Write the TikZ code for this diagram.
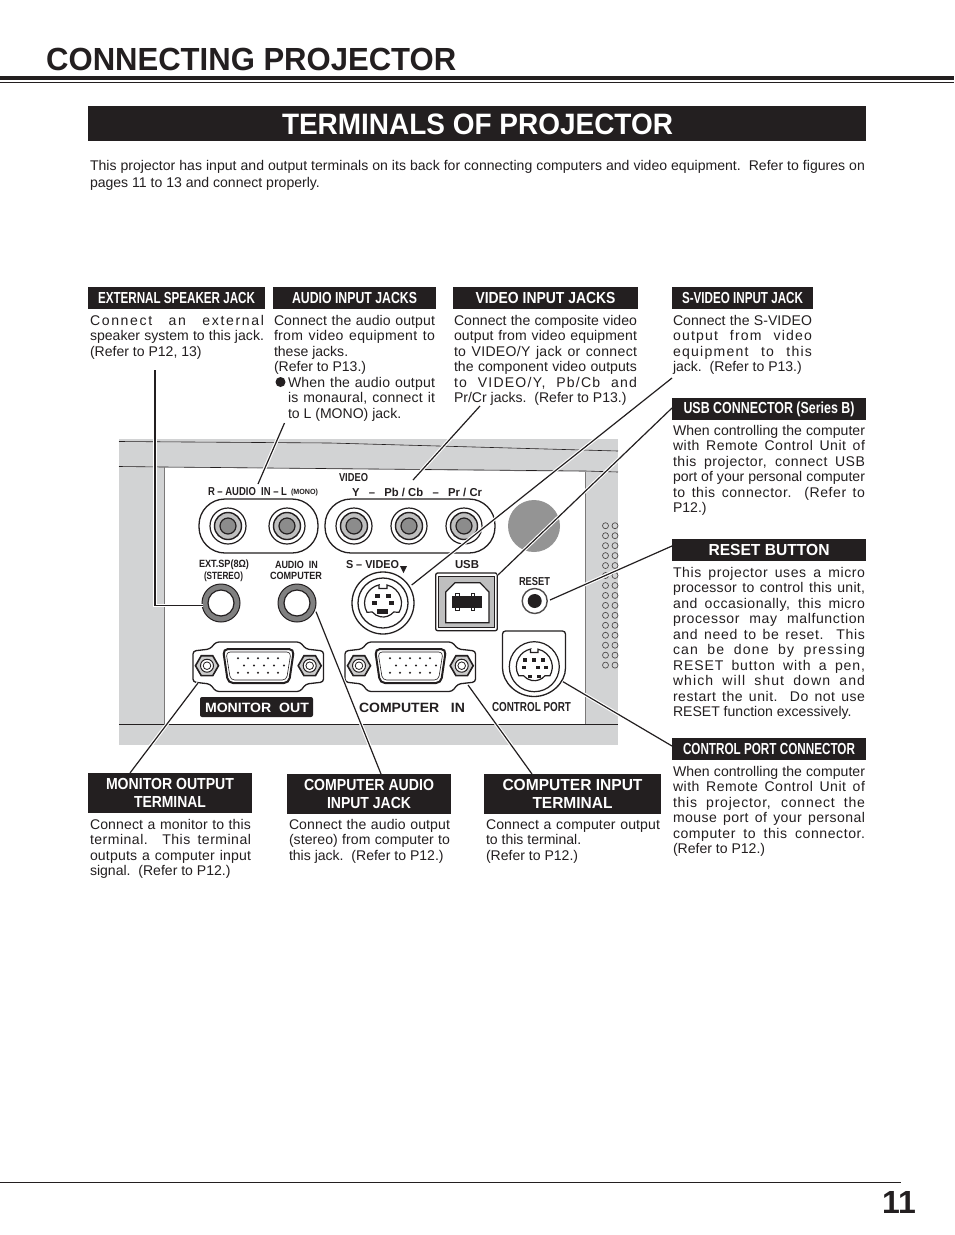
\documentclass[tikz,border=0pt]{standalone}
\usepackage{graphicx}
\usepackage{fontspec}
\setmainfont{Liberation Sans}
\definecolor{ink}{HTML}{231F20}
\definecolor{panel}{HTML}{D2D3D4}
\newsavebox\fbx
\newsavebox\fby
\newcommand\fitw[2]{\sbox\fbx{#2}\pgfmathsetmacro\fr{#1/\the\wd\fbx}\scalebox{\fr}[1]{\usebox\fbx}}
\newcommand\jl[1]{\par\noindent
  \sbox\fbx{\spaceskip=0pt\xspaceskip=0pt #1}%
  \sbox\fby{\addfontfeature{LetterSpace=10}\spaceskip=0pt\xspaceskip=0pt #1}%
  \pgfmathsetmacro\lsp{10*(\the\hsize-\the\wd\fbx)/(\the\wd\fby-\the\wd\fbx)}%
  \pgfmathsetmacro\lsp{\lsp>0?0.55*\lsp:\lsp}%
  \hbox to\hsize{\strut\addfontfeature{LetterSpace=\lsp}\spaceskip=0pt\xspaceskip=0pt #1}\par}
\newcommand\pl[1]{\par\noindent\hbox{\strut\spaceskip=0pt\xspaceskip=0pt #1}\par}
\newcommand\dsp{\ \ }
\tikzset{
  x=1pt,y=-1pt,
  body/.style={anchor=north west,inner sep=0pt,outer sep=0pt,text=ink,yshift=4.5pt,font=\fontsize{14.05}{15.5}\selectfont,align=left},
  bar/.style={fill=ink,inner sep=0pt,outer sep=0pt,text=white,align=center,font=\bfseries\fontsize{16}{17.5}\selectfont},
  lab/.style={inner sep=0pt,outer sep=0pt,text=ink,font=\bfseries\fontsize{11.5}{12}\selectfont},
  leader/.style={draw=ink,line width=1.2pt,preaction={draw=white,line width=3.4pt}},
}
\begin{document}
\begin{tikzpicture}
\useasboundingbox (0,0) rectangle (954,1235);
\fill[white] (0,0) rectangle (954,1235);
% ---- page heads
\node[inner sep=0pt,anchor=base west,text=ink,font=\bfseries\fontsize{32}{34}\selectfont] (title) at (46,70) {\fitw{410}{CONNECTING PROJECTOR}};
\fill[ink] (0,76) rectangle (954,80);
\fill[ink] (0,81.5) rectangle (954,82.7);
\node[bar,minimum width=778pt,minimum height=35pt] (mainbar) at (477,123.5) {};
\node[inner sep=0pt,anchor=base,text=white,font=\bfseries\fontsize{29.5}{31}\selectfont] (maintitle) at (477.5,134) {\fitw{391}{TERMINALS OF PROJECTOR}};
\node[body,text width=775pt,font=\fontsize{14.05}{17}\selectfont] (intro) at (90,157.5) {\jl{This projector has input and output terminals on its back for connecting computers and video equipment.\dsp Refer to figures on}\pl{pages 11 to 13 and connect properly.}};
% ---- panel
\fill[panel] (119,439) rectangle (618,745);
\fill[white] (164,467.5) -- (585,472) -- (585,724) -- (164,724) -- cycle;
\draw[ink,line width=.6pt] (119,441.5) -- (330,443) -- (618,451);
\draw[ink,line width=.6pt] (119,466.5) -- (164,467) -- (585,471) -- (618,472);
\draw[ink!60,line width=.6pt] (164,467) -- (164,724);
\draw[ink!60,line width=.6pt] (585,472) -- (585,724);
\draw[ink,line width=.6pt] (119,724) -- (618,724);
% speaker holes
\foreach \yy in {0,...,14}{
  \foreach \xx in {605.5,615}{
    \draw[ink!80,line width=.7pt] (\xx,525.7+9.96*\yy) circle[radius=3pt];
  }
}
% gray disc
\fill[black!42] (534,526) circle[radius=26pt];
% RCA groups
\draw[ink,line width=1.3pt,rounded corners=26pt] (199,499) rectangle (318,553);
\draw[ink,line width=1.3pt,rounded corners=26pt] (325,499) rectangle (495,553);
\foreach \cx in {228,287,354,409,464}{
  \draw[ink,line width=1.2pt,fill=white] (\cx,526) circle[radius=18pt];
  \draw[ink,line width=1.4pt,fill=black!25] (\cx,526) circle[radius=13.5pt];
  \draw[ink,line width=1.2pt,fill=black!45] (\cx,526) circle[radius=8pt];
}
% big jacks
\foreach \cx in {221,297}{
  \draw[ink,line width=1pt,fill=black!50] (\cx,603) circle[radius=19pt];
  \draw[ink,line width=1.2pt,fill=white] (\cx,603) circle[radius=13pt];
}
% VGA connectors
\foreach \dx in {0,-152}{
\begin{scope}[xshift=\dx pt]
  \draw[ink,line width=1.3pt,rounded corners=3pt,fill=white] (345,651) -- (362,649) -- (368,642) -- (452,642) -- (458,649) -- (475.5,651) -- (475.5,682) -- (458,684) -- (452,691.5) -- (368,691.5) -- (362,684) -- (345,682) -- cycle;
  \draw[ink,line width=2pt,rounded corners=5pt,fill=white] (375,649) -- (446,649) -- (441,683) -- (380,683) -- cycle;
  \draw[ink,line width=.6pt,rounded corners=4pt] (378,652) -- (443,652) -- (438.5,680) -- (382.5,680) -- cycle;
  \foreach \px in {390,400,410,420,430}{
    \fill[ink] (\px,658.3) circle[radius=1.1pt];
    \fill[ink] (\px,672.7) circle[radius=1.1pt];
    \fill[ink] (\px+6,665.5) circle[radius=1.1pt];
  }
  \foreach \sx in {359,461.7}{
    \draw[ink,line width=1.6pt,fill=black!20] (\sx,665.7) +(0:11.5) -- +(60:11.5) -- +(120:11.5) -- +(180:11.5) -- +(240:11.5) -- +(300:11.5) -- cycle;
    \draw[ink,line width=1pt,fill=white] (\sx,665.7) circle[radius=6.5pt];
    \draw[ink,line width=.8pt,fill=white] (\sx,665.7) circle[radius=3.8pt];
  }
\end{scope}
}
% S-video
\draw[ink,line width=1.3pt,fill=white] (383,603) circle[radius=31pt];
\draw[ink,line width=1.3pt] (383,603) circle[radius=25pt];
\draw[ink,line width=1.2pt,fill=white] (379,585) -- (379,588.5) -- (387,588.5) -- (387,585) arc[start angle=77.5,end angle=-30,radius=18.5pt] -- (393.7,612) arc[start angle=-40,end angle=-140,radius=14pt] -- (367,612.25) arc[start angle=210,end angle=102.5,radius=18.5pt] -- cycle;
\foreach \px/\py in {377.7/595.7,388.3/595.7,374.3/603.3,391.7/603.3}{
  \fill[ink] (\px-2.5,\py-2) rectangle (\px+2.5,\py+2);
}
\fill[ink] (377,609) rectangle (387.5,613.5);
% USB
\draw[ink,line width=1.3pt,rounded corners=2pt,fill=white] (435.7,573) rectangle (497.3,630.7);
\draw[ink,line width=1pt,fill=black!25] (438.5,576) rectangle (494.5,627.5);
\draw[ink,line width=1.2pt,fill=white] (445.7,622.7) -- (445.7,592) -- (455,582.7) -- (480,582.7) -- (489,592) -- (489,622.7) -- cycle;
\foreach \px in {457.5,473}{
  \draw[ink,line width=.7pt,fill=white] (\px-1.7,593) rectangle (\px+1.7,610.5);
}
\fill[ink] (452,595.5) rectangle (482,607.5);
% reset
\draw[ink!80,line width=1.4pt,fill=white] (534.7,601) circle[radius=12.5pt];
\fill[ink] (534.7,601) circle[radius=7pt];
% control port
\draw[ink,line width=1.3pt,fill=white,rounded corners=3pt] (502.5,631) -- (565.5,631) -- (565.5,665) arc[start angle=0,end angle=-180,radius=31.5pt] -- cycle;
\draw[ink,line width=1.2pt] (534.3,666.7) circle[radius=25pt];
\draw[ink,line width=1.2pt] (530.5,649.2) -- (530.5,652.5) -- (538,652.5) -- (538,649.2) arc[start angle=78,end angle=-30,radius=18pt] -- (545,675.7) arc[start angle=-40,end angle=-140,radius=14pt] -- (518.7,675.7) arc[start angle=210,end angle=102,radius=18pt] -- cycle;
\foreach \px/\py in {525.3/660,534.3/660,543.3/660,523.7/667.3,537.7/667.3,545.7/667.3,530/676.7,539/676.7}{
  \fill[ink] (\px-2,\py-1.7) rectangle (\px+2,\py+1.7);
}
% ---- panel labels
\node[lab,anchor=center] (lAudio) at (247.5,492) {\fitw{79}{R – AUDIO\dsp IN – L}};
\node[lab,anchor=center,font=\bfseries\fontsize{7.5}{8}\selectfont] (lMono) at (304.5,492.5) {\fitw{27}{(MONO)}};
\node[lab,anchor=center] (lVideo) at (353.5,478) {\fitw{29}{VIDEO}};
\node[lab,anchor=center] (lY) at (417,492) {\fitw{130}{Y\dsp\ –\dsp\ Pb / Cb\dsp\ –\dsp\ Pr / Cr}};
\node[lab,anchor=center,font=\bfseries\fontsize{10.5}{11}\selectfont] (lExt) at (224,565) {\fitw{50}{EXT.SP(8Ω)}};
\node[lab,anchor=center,font=\bfseries\fontsize{10.5}{11}\selectfont] (lSt) at (223.5,577) {\fitw{39}{(STEREO)}};
\node[lab,anchor=center,font=\bfseries\fontsize{10.5}{11}\selectfont] (lAi) at (296.5,565) {\fitw{43}{AUDIO\dsp IN}};
\node[lab,anchor=center,font=\bfseries\fontsize{10.5}{11}\selectfont] (lCo) at (296,576) {\fitw{52}{COMPUTER}};
\node[lab,anchor=center] (lSv) at (372.5,565) {\fitw{53}{S – VIDEO}};
\fill[ink] (400,566) -- (407,566) -- (403.5,573) -- cycle;
\node[lab,anchor=center] (lUsb) at (467,565) {\fitw{24}{USB}};
\node[lab,anchor=center] (lRes) at (534.5,582) {\fitw{31}{RESET}};
\node[fill=ink,rounded corners=2pt,inner sep=0pt,minimum width=113pt,minimum height=20pt] (mobox) at (256.5,707) {};
\node[lab,text=white,anchor=center,font=\bfseries\fontsize{13.5}{14}\selectfont] (lMo) at (257,707.5) {\fitw{104}{MONITOR\dsp OUT}};
\node[lab,anchor=center,font=\bfseries\fontsize{13.5}{14}\selectfont] (lCi) at (412,707.5) {\fitw{106}{COMPUTER\dsp\ IN}};
\node[lab,anchor=center,font=\bfseries\fontsize{13}{14}\selectfont] (lCp) at (531.5,707.5) {\fitw{79}{CONTROL PORT}};
% ---- anchors of the connectors
\coordinate (a1) at (155,370); \coordinate (a1b) at (155,605.5); \coordinate (p1) at (203,605.5);
\coordinate (a2) at (284.5,423); \coordinate (p2) at (258,484);
\coordinate (a3) at (480,406); \coordinate (p3) at (413,480);
\coordinate (a4) at (672,378); \coordinate (p4) at (411.7,585);
\coordinate (a5) at (672,408); \coordinate (p5) at (498,575);
\coordinate (a6) at (672,546); \coordinate (p6) at (550,600);
\coordinate (a7) at (672,746); \coordinate (p7) at (563,681.7);
\coordinate (p8) at (198,683); \coordinate (a8) at (130,773);
\coordinate (p9) at (316,611.7); \coordinate (a9) at (381,774);
\coordinate (p10) at (468,685); \coordinate (a10) at (532,774);
\draw[leader] (a1) -- (a1b) -- (p1);
\draw[leader] (a2) -- (p2);
\draw[leader] (a3) -- (p3);
\draw[leader] (a4) -- (p4);
\draw[leader] (a5) -- (p5);
\draw[leader] (a6) -- (p6);
\draw[leader] (a7) -- (p7);
\draw[leader] (p8) -- (a8);
\draw[leader] (p9) -- (a9);
\draw[leader] (p10) -- (a10);
% ---- headers
\node[bar,minimum width=177pt,minimum height=22pt] (h1) at (176.5,298) {\fitw{157}{EXTERNAL SPEAKER JACK}};
\node[bar,minimum width=163pt,minimum height=22pt] (h2) at (354.5,298) {\fitw{125}{AUDIO INPUT JACKS}};
\node[bar,minimum width=185pt,minimum height=22pt] (h3) at (545.5,298) {\fitw{140}{VIDEO INPUT JACKS}};
\node[bar,minimum width=141pt,minimum height=22pt] (h4) at (742.5,298) {\fitw{121}{S-VIDEO INPUT JACK}};
\node[bar,minimum width=194pt,minimum height=22pt] (h5) at (769,409) {\fitw{171}{USB CONNECTOR (Series B)}};
\node[bar,minimum width=194pt,minimum height=22pt] (h6) at (769,550) {\fitw{121}{RESET BUTTON}};
\node[bar,minimum width=194pt,minimum height=22pt] (h7) at (769,749) {\fitw{172}{CONTROL PORT CONNECTOR}};
\node[bar,minimum width=164pt,minimum height=40pt] (h8) at (170,793) {\fitw{128}{MONITOR OUTPUT}\\\fitw{72}{TERMINAL}};
\node[bar,minimum width=164pt,minimum height=40pt] (h9) at (369,794) {\fitw{130}{COMPUTER AUDIO}\\\fitw{84}{INPUT JACK}};
\node[bar,minimum width=177pt,minimum height=40pt] (h10) at (572.5,794) {\fitw{140}{COMPUTER INPUT}\\\fitw{80}{TERMINAL}};
% ---- body texts
\node[body,text width=174pt] (t1) at (90,314) {\jl{Connect an external}\jl{speaker system to this jack.}\pl{(Refer to P12, 13)}};
\node[body,text width=161pt] (t2) at (274,314) {\jl{Connect the audio output}\jl{from video equipment to}\pl{these jacks.}\pl{(Refer to P13.)}};
\node[circle,fill=ink,inner sep=0pt,minimum size=10pt] (bul) at (280.5,382) {};
\node[body,text width=147pt] (t2b) at (288,376) {\jl{When the audio output}\jl{is monaural, connect it}\pl{to L (MONO) jack.}};
\node[body,text width=183pt] (t3) at (454,314) {\jl{Connect the composite video}\jl{output from video equipment}\jl{to VIDEO/Y jack or connect}\jl{the component video outputs}\jl{to VIDEO/Y, Pb/Cb and}\pl{Pr/Cr jacks.\dsp (Refer to P13.)}};
\node[body,text width=139pt] (t4) at (673,314) {\jl{Connect the S-VIDEO}\jl{output from video}\jl{equipment to this}\pl{jack.\dsp (Refer to P13.)}};
\node[body,text width=192pt] (t5) at (673,424) {\jl{When controlling the computer}\jl{with Remote Control Unit of}\jl{this projector, connect USB}\jl{port of your personal computer}\jl{to this connector.\dsp (Refer to}\pl{P12.)}};
\node[body,text width=192pt] (t6) at (673,566) {\jl{This projector uses a micro}\jl{processor to control this unit,}\jl{and occasionally, this micro}\jl{processor may malfunction}\jl{and need to be reset.\dsp This}\jl{can be done by pressing}\jl{RESET button with a pen,}\jl{which will shut down and}\jl{restart the unit.\dsp Do not use}\pl{RESET function excessively.}};
\node[body,text width=192pt] (t7) at (673,765) {\jl{When controlling the computer}\jl{with Remote Control Unit of}\jl{this projector, connect the}\jl{mouse port of your personal}\jl{computer to this connector.}\pl{(Refer to P12.)}};
\node[body,text width=161pt] (t8) at (90,818) {\jl{Connect a monitor to this}\jl{terminal.\dsp This terminal}\jl{outputs a computer input}\pl{signal.\dsp (Refer to P12.)}};
\node[body,text width=161pt] (t9) at (289,818) {\jl{Connect the audio output}\jl{(stereo) from computer to}\pl{this jack.\dsp (Refer to P12.)}};
\node[body,text width=174pt] (t10) at (486,818) {\jl{Connect a computer output}\pl{to this terminal.}\pl{(Refer to P12.)}};
% ---- foot
\draw[ink,line width=1pt] (0,1182) -- (901,1182);
\node[inner sep=0pt,anchor=base,text=ink,font=\bfseries\fontsize{32}{34}\selectfont] (pg) at (899,1213) {11};
\end{tikzpicture}
\end{document}
